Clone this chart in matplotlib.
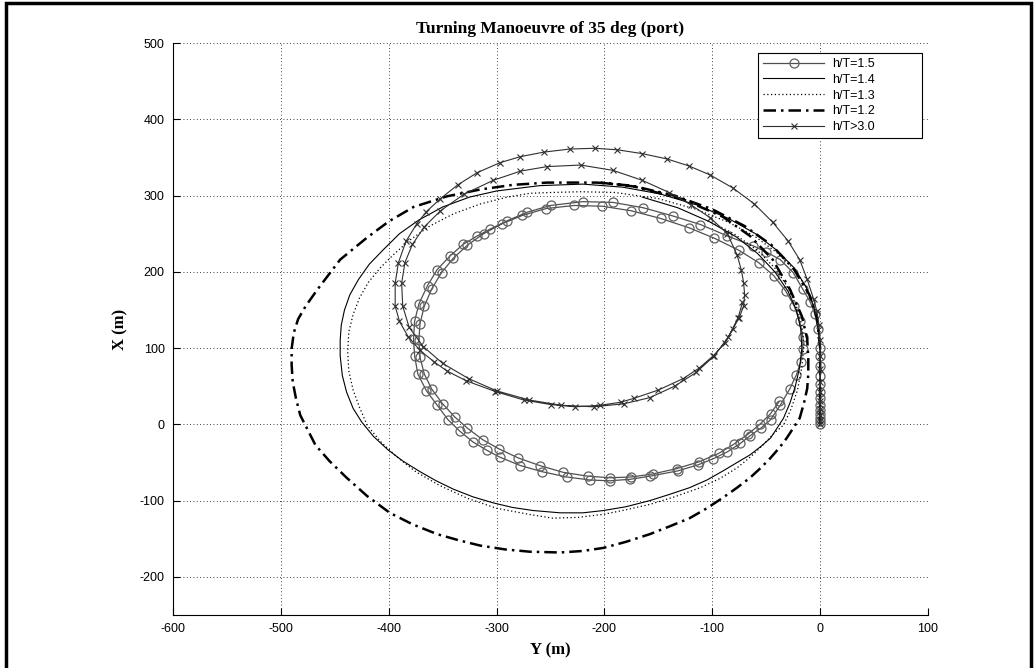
import matplotlib
matplotlib.use('Agg')
import matplotlib.pyplot as plt
from matplotlib.patches import Rectangle

plt.rcParams['axes.unicode_minus'] = False

# turning circle tracks, Y (m) horizontal, X (m) vertical
y_15 = [0, 0, 0, 0, 0, 0, 0, 0, 0, 0, 0, 0, 0, -2, -5, -9, -16, -25, -37, -50, -62, -86, -111, -136, -164,
        -192, -220, -250, -272, -290, -306, -318, -331, -343, -355, -364, -372, -376, -377, -376, -373, -365,
        -355, -345, -334, -322, -309, -297, -278, -258, -235, -213, -195, -176, -158, -132, -113, -99, -86,
        -74, -65, -55, -46, -37, -28, -22, -18, -16,
        -16, -19, -24, -32, -43, -57, -75, -98, -122, -148, -175, -202, -228, -254, -276, -295, -312, -327,
        -340, -351, -360, -367, -371, -372, -371, -367, -360, -350, -339, -327, -313, -298, -280, -260, -238,
        -215, -195, -175, -155, -133, -112, -94, -80, -67, -56, -46, -38]
x_15 = [0, 4, 8, 13, 19, 26, 34, 43, 53, 64, 76, 89, 100, 125, 145, 160, 177, 199, 216, 226, 234, 247, 262,
        273, 284, 291, 292, 287, 278, 267, 256, 247, 236, 221, 203, 182, 158, 135, 112, 90, 66, 44, 25, 6,
        -9, -23, -34, -43, -54, -62, -69, -73, -74, -72, -68, -61, -53, -45, -36, -25, -15, -5, 6, 25, 47,
        65, 82, 99,
        115, 135, 155, 175, 195, 212, 228, 244, 258, 270, 280, 286, 287, 283, 274, 263, 250, 235, 218, 199,
        178, 155, 132, 110, 88, 66, 46, 27, 10, -5, -20, -32, -44, -54, -63, -68, -70, -69, -65, -58, -49,
        -38, -26, -13, 0, 14, 30]

y_14 = [0, 0, 0, -2, -6, -13, -24, -40, -60, -85, -115, -148, -183, -220, -260, -300, -325, -350, -372,
        -390, -405, -418, -428, -436, -441, -444, -445, -445, -443, -439, -433, -425, -414, -401, -387, -371,
        -356, -340, -322, -303, -285, -266, -241, -220, -201, -180, -158, -140, -121, -105, -90, -77, -65,
        -55, -46, -40, -34, -28, -23, -19, -17, -18, -22, -30, -42, -58, -78, -103, -132, -165]
x_14 = [0, 50, 100, 130, 155, 180, 205, 228, 250, 270, 288, 302, 311, 315, 313, 306, 298, 285, 268, 250,
        229, 210, 190, 170, 150, 130, 110, 90, 64, 42, 21, 3, -16, -33, -48, -62, -74, -85, -95, -103, -109,
        -113, -116, -116, -113, -108, -100, -92, -83, -73, -61, -50, -40, -29, -18, -5, 8, 28, 50, 75, 100,
        125, 150, 175, 200, 224, 246, 266, 284, 298]

y_13 = [0, 0, 0, -2, -6, -13, -24, -40, -60, -85, -115, -150, -190, -222, -250, -269, -290, -315, -340,
        -362, -380, -396, -408, -419, -427, -433, -437, -438, -437, -433, -427, -420, -408, -393, -375, -353,
        -327, -300, -270, -248, -225, -201, -180, -158, -135, -111, -93, -77, -64, -53, -43, -34, -27, -21,
        -17, -15, -17, -22, -30, -42, -58, -80, -105]
x_13 = [0, 50, 100, 130, 155, 180, 203, 225, 246, 265, 282, 296, 304, 305, 304, 303, 298, 289, 276, 260,
        242, 222, 205, 186, 166, 144, 121, 95, 70, 45, 22, -1, -22, -42, -62, -80, -97, -110, -118, -123,
        -122, -118, -112, -105, -95, -83, -71, -57, -42, -27, -12, -1, 20, 45, 75, 105, 130, 155, 180, 205,
        228, 250, 268]

y_12 = [0, 0, 0, -3, -10, -25, -45, -70, -100, -135, -175, -207, -253, -285, -315, -346, -377, -400, -420,
        -445, -466, -477, -484, -488, -490, -490, -489, -486, -482, -468, -455, -439, -420, -399, -378, -355,
        -335, -315, -292, -269, -241, -220, -201, -180, -158, -140, -121, -105, -90, -77, -65, -55, -46, -38,
        -31, -25, -19, -15, -12, -11, -11, -12, -17, -28, -44, -65, -90, -127, -173, -204]
x_12 = [0, 50, 100, 140, 170, 205, 235, 260, 282, 300, 313, 317, 317, 314, 308, 299, 285, 266, 245, 216,
        177, 155, 138, 120, 99, 78, 56, 34, 12, -27, -48, -70, -94, -116, -131, -144, -152, -159, -164, -167,
        -168, -166, -162, -154, -144, -134, -123, -110, -96, -83, -70, -57, -44, -31, -18, -5, 8, 28, 47, 66,
        86, 112, 142, 177, 216, 247, 272, 295, 312, 317]

y_30 = [0, 0, 0, 0, 0, 0, 0, 0, 0, 0, -1, -3, -6, -12, -19, -30, -44, -61, -81, -102, -122, -142, -165, -188,
        -209, -232, -256, -278, -297, -318, -336, -352, -365, -374, -384, -391, -394, -394, -390, -382, -371,
        -358, -346, -328, -301, -275, -250, -227, -204, -185, -173, -150, -127, -112, -99, -88, -81, -75, -71,
        -70, -71, -73, -77, -86,
        -102, -120, -140, -165, -192, -222, -253, -278, -303, -330, -352, -367, -378, -385, -388, -387, -381,
        -368, -350, -326, -300, -270, -240, -210, -182, -158, -135, -115, -98, -85, -76, -72]
x_30 = [0, 5, 12, 20, 30, 42, 56, 72, 90, 110, 130, 148, 164, 190, 216, 241, 265, 289, 310, 327, 339, 348,
        355, 360, 362, 361, 357, 351, 343, 330, 314, 296, 279, 263, 240, 212, 185, 155, 135, 115, 97, 82, 70,
        57, 43, 32, 26, 23, 25, 29, 34, 45, 60, 74, 90, 107, 125, 140, 155, 170, 186, 202, 222, 250,
        271, 288, 304, 320, 333, 340, 338, 332, 320, 302, 280, 259, 236, 212, 185, 155, 127, 102, 80, 60,
        44, 32, 25, 23, 27, 35, 50, 68, 90, 115, 140, 160]

labels = ['h/T=1.5', 'h/T=1.4', 'h/T=1.3', 'h/T=1.2', 'h/T>3.0']
x_ticks = [-600, -500, -400, -300, -200, -100, 0, 100]
y_ticks = [-200, -100, 0, 100, 200, 300, 400, 500]

fig = plt.figure(figsize=(10.34, 6.68), dpi=100)
ax = fig.add_axes([0.1673, 0.0793, 0.7302, 0.8563])

ax.plot(y_15, x_15, '-', color='#505050', lw=0.9, marker='o', ms=6.5, mfc='none', mec='#606060', mew=0.9,
        label=labels[0])
ax.plot(y_14, x_14, '-', color='black', lw=0.8, label=labels[1])
ax.plot(y_13, x_13, color='black', lw=0.9, linestyle=(0, (1, 2)), label=labels[2])
ax.plot(y_12, x_12, color='black', lw=1.8, linestyle=(0, (5, 2, 1, 2)), label=labels[3])
ax.plot(y_30, x_30, '-', color='#303030', lw=0.8, marker='x', ms=4, mew=0.8, label=labels[4])

ax.set_xlim(-600, 100)
ax.set_ylim(-250, 500)
ax.set_xticks(x_ticks)
ax.set_yticks(y_ticks)
ax.grid(True, color='black', lw=0.6, linestyle=(0, (1, 3)))
ax.tick_params(direction='in', length=5, width=0.8, labelsize=9, pad=6)
for lab in ax.get_xticklabels() + ax.get_yticklabels():
    lab.set_family('Liberation Sans')
ax.spines['top'].set_visible(False)
ax.spines['right'].set_visible(False)
for s in ('left', 'bottom'):
    ax.spines[s].set_linewidth(0.8)

ax.set_title('Turning Manoeuvre of 35 deg (port)', family='Liberation Serif', weight='bold',
             fontsize=12.5, pad=7)
ax.set_xlabel('Y (m)', family='Liberation Serif', weight='bold', fontsize=12, labelpad=5)
ax.set_ylabel('X (m)', family='Liberation Serif', weight='bold', fontsize=12, labelpad=8)

# legend box stretched to the MATLAB width
leg = ax.legend(loc='upper left', bbox_to_anchor=(0.775, 0.5, 0.2172, 0.4825), mode='expand',
                borderaxespad=0, fancybox=False, edgecolor='black', framealpha=1, handlelength=4.9,
                handletextpad=0.6, labelspacing=0.3, prop={'family': 'Liberation Sans', 'size': 9})
leg.get_frame().set_linewidth(0.8)

# outer frame around the whole picture
fig.patches.append(Rectangle((0.006, -0.02), 0.991, 1.015, transform=fig.transFigure, fill=False,
                             edgecolor='black', lw=2.5))

fig.savefig('out.png', dpi=100)
